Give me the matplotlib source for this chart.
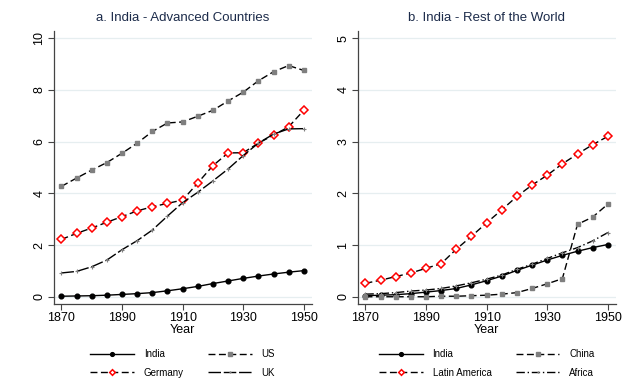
import matplotlib
matplotlib.use("Agg")
import matplotlib.pyplot as plt

plt.rcParams['font.family'] = ['Liberation Sans', 'DejaVu Sans']

years = list(range(1870, 1951, 5))

india = [0.02, 0.03, 0.04, 0.06, 0.09, 0.12, 0.16, 0.23, 0.31, 0.40, 0.51, 0.61, 0.71, 0.80, 0.88, 0.95, 1.01]
us = [4.27, 4.59, 4.90, 5.19, 5.55, 5.94, 6.39, 6.72, 6.76, 6.98, 7.21, 7.57, 7.91, 8.35, 8.70, 8.94, 8.75]
germany = [2.22, 2.45, 2.66, 2.88, 3.10, 3.32, 3.48, 3.61, 3.74, 4.40, 5.07, 5.56, 5.57, 5.94, 6.25, 6.57, 7.21]
uk = [0.92, 0.98, 1.16, 1.42, 1.82, 2.17, 2.58, 3.12, 3.64, 4.04, 4.48, 4.94, 5.46, 5.94, 6.29, 6.49, 6.50]

latin_america = [0.26, 0.32, 0.39, 0.46, 0.55, 0.64, 0.92, 1.17, 1.43, 1.68, 1.94, 2.16, 2.35, 2.57, 2.76, 2.94, 3.10]
china = [0.00, 0.00, 0.00, 0.00, 0.00, 0.01, 0.01, 0.02, 0.03, 0.05, 0.08, 0.16, 0.25, 0.35, 1.40, 1.54, 1.79]
africa = [0.05, 0.06, 0.08, 0.11, 0.13, 0.16, 0.21, 0.27, 0.34, 0.42, 0.53, 0.63, 0.74, 0.85, 0.95, 1.08, 1.24]

xticks = [1870, 1890, 1910, 1930, 1950]

fig = plt.figure(figsize=(6.4, 3.87), dpi=100)
ax1 = fig.add_axes([0.084, 0.2145, 0.403, 0.705])
ax2 = fig.add_axes([0.559, 0.2145, 0.403, 0.705])

lw = 1.0
s_india = dict(color='black', lw=lw, marker='o', ms=3.4, mfc='black', mec='black')
s_sq = dict(color='black', lw=lw, dashes=(5, 2.5), marker='s', ms=3.4, mfc='#7f7f7f', mec='#7f7f7f')
s_dia = dict(color='black', lw=lw, dashes=(5, 2.5), marker='D', ms=3.6, mfc='white', mec='red', mew=1.1)
s_uk = dict(color='black', lw=lw, dashes=(9, 2), marker='+', ms=2.5, mec='#7f7f7f', mew=0.8)
s_af = dict(color='black', lw=lw, dashes=(6, 2, 1, 2), marker='+', ms=2.5, mec='#7f7f7f', mew=0.8)

l1 = ax1.plot(years, india, label='India', **s_india)[0]
l2 = ax1.plot(years, us, label='US', **s_sq)[0]
l3 = ax1.plot(years, germany, label='Germany', **s_dia)[0]
l4 = ax1.plot(years, uk, label='UK', **s_uk)[0]

r1 = ax2.plot(years, india, label='India', **s_india)[0]
r2 = ax2.plot(years, china, label='China', **s_sq)[0]
r3 = ax2.plot(years, latin_america, label='Latin America', **s_dia)[0]
r4 = ax2.plot(years, africa, label='Africa', **s_af)[0]

panels = [(ax1, 'a. India - Advanced Countries', 10, (-0.28, 10.27), [l1, l3, l2, l4]),
          (ax2, 'b. India - Rest of the World', 5, (-0.14, 5.135), [r1, r3, r2, r4])]

for ax, title, top, ylim, handles in panels:
    ax.set_xlim(1867.45, 1952.6)
    ax.set_ylim(*ylim)
    step = 2 if top == 10 else 1
    yt = list(range(0, top + 1, step))
    ax.set_yticks(yt)
    ax.set_xticks(xticks)
    for v in yt:
        ax.axhline(v, color='#e6eef0', lw=0.9, zorder=0)
    ax.set_title(title, fontsize=9.5, color='#1c2b4a', pad=7)
    ax.set_xlabel('Year', fontsize=9, labelpad=0)
    ax.tick_params(axis='both', labelsize=9, length=4, width=0.8, color='#444444', pad=2)
    for lab in ax.get_yticklabels():
        lab.set_rotation(90)
        lab.set_va('center')
    for side in ['top', 'right']:
        ax.spines[side].set_visible(False)
    for side in ['left', 'bottom']:
        ax.spines[side].set_color('#444444')
        ax.spines[side].set_linewidth(0.9)
    ax.legend(handles, [h.get_label() for h in handles], ncol=2, loc='center',
              bbox_to_anchor=(0.5, -0.218), frameon=False, fontsize=7,
              handlelength=4.5, handletextpad=1.0, columnspacing=2.5,
              labelspacing=0.9, markerscale=0.8)

fig.savefig('out.png', dpi=100)
